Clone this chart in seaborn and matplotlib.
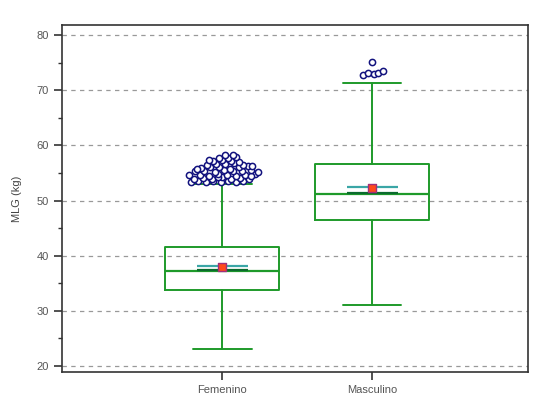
import matplotlib
matplotlib.use("Agg")
import matplotlib.pyplot as plt
import seaborn as sns

categories = ["Femenino", "Masculino"]
q1 = [33.8, 46.5]
medians = [37.3, 51.2]
q3 = [41.5, 56.6]
whisker_low = [23.1, 31.1]
whisker_high = [53.0, 71.4]
means = [38.0, 52.3]

# outliers: values and the horizontal spread seen in the picture
fem_outliers = [53.4, 53.5, 53.3, 53.6, 53.4, 53.5, 53.3, 53.6,
                54.0, 54.1, 53.9, 54.2, 54.0, 54.1, 53.9, 54.3,
                54.6, 54.7, 54.5, 54.8, 54.6, 54.5, 54.7, 54.9, 54.4,
                55.3, 55.4, 55.2, 55.5, 55.3, 55.4, 55.6, 55.1,
                55.9, 56.0, 56.1, 55.8, 56.0, 56.2, 55.7,
                56.5, 56.7, 56.6, 56.8, 56.4, 56.3,
                57.2, 57.3, 57.1, 57.0, 57.4,
                57.8, 57.7, 57.9,
                58.3, 58.2]
fem_spread = [-0.21, -0.16, -0.11, -0.06, -0.01, 0.04, 0.09, 0.14,
              -0.19, -0.13, -0.07, 0.00, 0.06, 0.12, 0.18, -0.03,
              -0.22, -0.15, -0.09, -0.03, 0.03, 0.09, 0.15, 0.22, 0.19,
              -0.18, -0.12, -0.05, 0.01, 0.07, 0.13, 0.19, 0.24,
              -0.14, -0.08, -0.02, 0.05, 0.11, 0.17, -0.17,
              -0.10, -0.04, 0.02, 0.08, 0.14, 0.20,
              -0.06, 0.00, 0.06, 0.11, -0.09,
              -0.02, 0.04, 0.09,
              0.02, 0.07]
mas_outliers = [72.8, 73.1, 73.0, 73.1, 73.5, 75.1]
mas_spread = [-0.06, -0.03, 0.01, 0.04, 0.07, 0.0]

sns.set_style("ticks")
plt.rcParams["font.family"] = ["Liberation Sans", "DejaVu Sans"]

fig = plt.figure(figsize=(5.53, 4.13), dpi=100)
ax = fig.add_axes([0.112, 0.099, 0.843, 0.840])

green = "#1e9a2a"
stats = []
for i, name in enumerate(categories):
    stats.append({"label": name, "q1": q1[i], "med": medians[i], "q3": q3[i],
                  "whislo": whisker_low[i], "whishi": whisker_high[i],
                  "mean": means[i], "fliers": []})

ax.bxp(stats, positions=[0, 1], widths=0.76, capwidths=0.39,
       showmeans=False, showfliers=False, patch_artist=False,
       boxprops=dict(color=green, linewidth=1.4),
       whiskerprops=dict(color=green, linewidth=1.4),
       capprops=dict(color=green, linewidth=1.4),
       medianprops=dict(color=green, linewidth=1.6))

# mean line + marker
for i, m in enumerate(means):
    ax.hlines(m + 0.15, i - 0.17, i + 0.17, color="#3aa6a6", linewidth=1.6, zorder=3)
    ax.hlines(medians[i] + 0.1, i - 0.17, i + 0.17, color="#0b6b2e", linewidth=1.6, zorder=3)
sns.scatterplot(x=[0, 1], y=means, marker="s", s=28, color="#ff4a1a",
                edgecolor="#a0307a", linewidth=1.0, zorder=4, ax=ax)

sns.scatterplot(x=fem_spread, y=fem_outliers, marker="o", s=20,
                facecolor="white", edgecolor="#12127e", linewidth=1.1, zorder=5, ax=ax)
sns.scatterplot(x=[1 + s for s in mas_spread], y=mas_outliers, marker="o", s=20,
                facecolor="white", edgecolor="#12127e", linewidth=1.1, zorder=5, ax=ax)

ax.set_xlim(-1.07, 2.04)
ax.set_ylim(18.9, 81.8)
ax.set_xticks([0, 1])
ax.set_xticklabels(categories)
ax.set_yticks(range(20, 81, 10))
ax.set_yticks(range(25, 80, 10), minor=True)
ax.yaxis.grid(True, which="major", linestyle=(0, (3.5, 3.5)), color="#999999", linewidth=0.9)
ax.set_axisbelow(True)
for sp in ax.spines.values():
    sp.set_visible(True)
    sp.set_color("#333333")
    sp.set_linewidth(1.2)
ax.tick_params(axis="both", which="major", length=6, width=1.2, color="#333333",
               labelsize=8, labelcolor="#555555")
ax.tick_params(axis="y", which="minor", length=3, width=1.0, color="#333333")
ax.set_ylabel("MLG (kg)", fontsize=8, color="#444444", labelpad=10)
ax.set_xlabel("")

fig.savefig("out.png", dpi=100)
